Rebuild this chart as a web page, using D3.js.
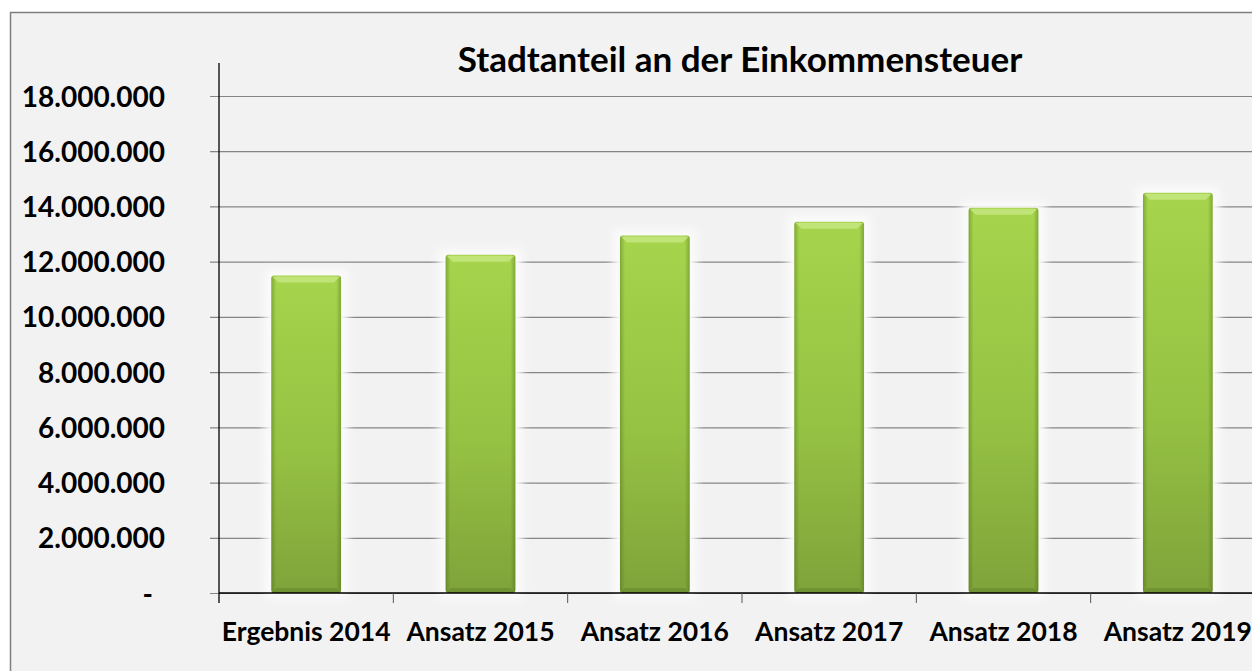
<!DOCTYPE html>
<html>
<head>
<meta charset="utf-8">
<script src="https://cdn.jsdelivr.net/npm/d3@7"></script>
<style>
  html, body { margin: 0; padding: 0; background: #ffffff; }
  svg { display: block; }
  text { font-family: Lato, "Open Sans", sans-serif; font-weight: 700; fill: #000; }
</style>
</head>
<body>
<svg id="chart" width="1252" height="671"></svg>
<script>
const categories = ["Ergebnis 2014", "Ansatz 2015", "Ansatz 2016", "Ansatz 2017", "Ansatz 2018", "Ansatz 2019"];
const values = [11500000, 12250000, 12950000, 13450000, 13950000, 14500000];
const yTicks = [0, 2000000, 4000000, 6000000, 8000000, 10000000, 12000000, 14000000, 16000000, 18000000];
const chartTitle = "Stadtanteil an der Einkommensteuer";

const svg = d3.select("#chart");
const W = 1252, H = 671;

const plot = { left: 219, right: 1265, top: 63, bottom: 593 };

// chart area background + border
svg.append("rect")
  .attr("x", 10.5).attr("y", 12.5)
  .attr("width", W).attr("height", H)
  .attr("fill", "#f2f2f2")
  .attr("stroke", "#7f7f7f")
  .attr("stroke-width", 1.5);

const defs = svg.append("defs");
const vg = defs.append("linearGradient").attr("id", "barFill")
  .attr("x1", 0).attr("y1", 0).attr("x2", 0).attr("y2", 1);
vg.append("stop").attr("offset", "0%").attr("stop-color", "#a6d44c");
vg.append("stop").attr("offset", "55%").attr("stop-color", "#95c243");
vg.append("stop").attr("offset", "100%").attr("stop-color", "#7fa33a");

const hg = defs.append("linearGradient").attr("id", "barSides")
  .attr("x1", 0).attr("y1", 0).attr("x2", 1).attr("y2", 0);
hg.append("stop").attr("offset", "0%").attr("stop-color", "#3d5a10").attr("stop-opacity", 0.35);
hg.append("stop").attr("offset", "7%").attr("stop-color", "#3d5a10").attr("stop-opacity", 0);
hg.append("stop").attr("offset", "93%").attr("stop-color", "#3d5a10").attr("stop-opacity", 0);
hg.append("stop").attr("offset", "100%").attr("stop-color", "#3d5a10").attr("stop-opacity", 0.35);

const glow = defs.append("filter").attr("id", "glow")
  .attr("x", "-30%").attr("y", "-10%").attr("width", "160%").attr("height", "120%");
glow.append("feGaussianBlur").attr("stdDeviation", 4);

const x = d3.scaleBand()
  .domain(categories)
  .range([plot.left, plot.right])
  .paddingInner(0.6)
  .paddingOuter(0.3);

const y = d3.scaleLinear()
  .domain([0, 18000000])
  .range([593, 96]);

// gridlines
const yAxis = d3.axisLeft(y)
  .tickValues(yTicks)
  .tickSize(-(W - plot.left + 20))
  .tickFormat(d => d === 0 ? "-" : d3.format(",")(d).replace(/,/g, "."));

const gy = svg.append("g")
  .attr("transform", `translate(${plot.left},0)`)
  .call(yAxis);
gy.select(".domain").remove();
gy.selectAll(".tick line")
  .attr("x1", -9)
  .attr("stroke", "#858585")
  .attr("stroke-width", 1.2);
gy.selectAll(".tick text")
  .attr("x", d => d === 0 ? -66 : -54)
  .attr("dy", "0.36em")
  .style("font-size", "28px")
  .style("font-family", "Lato, sans-serif")
  .style("font-weight", 700)
  .attr("fill", "#000");

// bars
const bars = svg.append("g").selectAll("g.bar")
  .data(categories.map((c, i) => ({ c, v: values[i] })))
  .join("g").attr("class", "bar");

bars.append("rect")
  .attr("x", d => x(d.c) - 7)
  .attr("y", d => y(d.v) - 6)
  .attr("width", x.bandwidth() + 14)
  .attr("height", d => y(0) - y(d.v) + 12)
  .attr("fill", "#fbfbfb")
  .attr("filter", "url(#glow)");

bars.append("rect")
  .attr("x", d => x(d.c))
  .attr("y", d => y(d.v))
  .attr("width", x.bandwidth())
  .attr("height", d => y(0) - y(d.v))
  .attr("rx", 3)
  .attr("fill", "url(#barFill)");

bars.append("rect")
  .attr("x", d => x(d.c))
  .attr("y", d => y(d.v))
  .attr("width", x.bandwidth())
  .attr("height", d => y(0) - y(d.v))
  .attr("rx", 3)
  .attr("fill", "url(#barSides)");

// top bevel
bars.append("path")
  .attr("d", d => {
    const x0 = x(d.c), x1 = x0 + x.bandwidth(), t = y(d.v), b = 7;
    return `M${x0 + 1},${t + 1} L${x1 - 1},${t + 1} L${x1 - b},${t + b} L${x0 + b},${t + b} Z`;
  })
  .attr("fill", "#c4e67f")
  .attr("opacity", 0.85);

// bottom bevel
bars.append("path")
  .attr("d", d => {
    const x0 = x(d.c), x1 = x0 + x.bandwidth(), bt = y(0), b = 5;
    return `M${x0 + 1},${bt} L${x1 - 1},${bt} L${x1 - b},${bt - b} L${x0 + b},${bt - b} Z`;
  })
  .attr("fill", "#5f7f28")
  .attr("opacity", 0.45);

// value axis line
svg.append("line")
  .attr("x1", plot.left).attr("x2", plot.left)
  .attr("y1", plot.top).attr("y2", y(0) + 10)
  .attr("stroke", "#000").attr("stroke-width", 1.3);

// category axis
const gx = svg.append("g")
  .attr("transform", `translate(0,${y(0)})`)
  .call(d3.axisBottom(x).tickSize(0).tickSizeOuter(0));
gx.select(".domain").remove();
gx.selectAll(".tick text")
  .attr("y", 29)
  .style("font-size", "26.5px")
  .style("font-family", "Lato, sans-serif")
  .style("font-weight", 700)
  .attr("fill", "#000");

svg.append("line")
  .attr("x1", plot.left).attr("x2", W)
  .attr("y1", y(0)).attr("y2", y(0))
  .attr("stroke", "#000").attr("stroke-width", 1.3);

const step = x.step();
svg.append("g").selectAll("line")
  .data(d3.range(1, categories.length))
  .join("line")
  .attr("x1", i => plot.left + i * step)
  .attr("x2", i => plot.left + i * step)
  .attr("y1", y(0)).attr("y2", y(0) + 10)
  .attr("stroke", "#555").attr("stroke-width", 1);

svg.append("text")
  .attr("x", 740)
  .attr("y", 72)
  .attr("text-anchor", "middle")
  .style("font-size", "35px")
  .text(chartTitle);
</script>
</body>
</html>
